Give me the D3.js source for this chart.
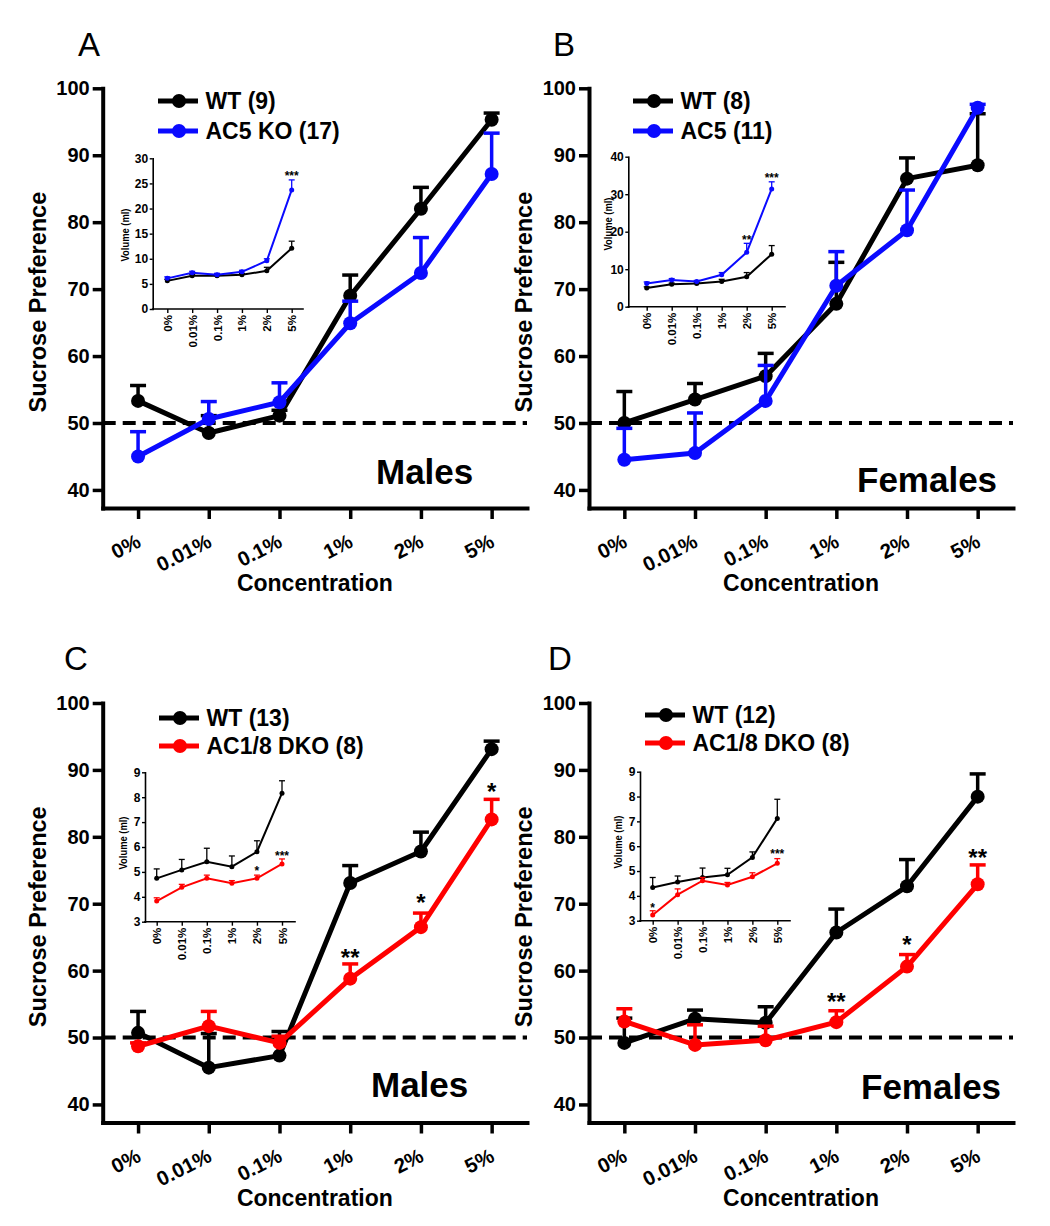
<!DOCTYPE html>
<html><head><meta charset="utf-8">
<script src="https://cdn.jsdelivr.net/npm/d3@7"></script>
<style>
body{margin:0;background:#fff;}
svg{display:block;font-family:"Liberation Sans",Arial,Helvetica,sans-serif;}
</style></head><body>
<svg id="chart" width="1050" height="1226"></svg>
<script>
// ---------- shared categories / ticks ----------
const concentrations = ["0%", "0.01%", "0.1%", "1%", "2%", "5%"];
const prefTicks = [40, 50, 60, 70, 80, 90, 100];

// ---------- Panel A (Males, AC5 KO) ----------
const aWT     = [53.3, 48.5, 51.1, 69.0, 82.0, 95.3];
const aWTErr  = [2.3, 2.6, 0.8, 3.1, 3.2, 1.0];
const aKO     = [45.0, 50.6, 53.1, 64.9, 72.4, 87.2];
const aKOErr  = [3.7, 2.6, 2.9, 3.3, 5.3, 6.1];
const aWTVol     = [5.6, 6.6, 6.6, 6.8, 7.6, 12.1];
const aWTVolErr  = [0.3, 0.3, 0.3, 0.3, 0.7, 1.4];
const aKOVol     = [6.1, 7.2, 6.8, 7.4, 9.6, 23.7];
const aKOVolErr  = [0.3, 0.3, 0.3, 0.3, 0.4, 2.0];
const aVolTicks  = [0, 5, 10, 15, 20, 25, 30];
const aStars      = [];
const aInsetStars = [["5%", 27.0, "***"]];

// ---------- Panel B (Females, AC5) ----------
const bWT     = [50.0, 53.5, 57.0, 67.8, 86.5, 88.5];
const bWTErr  = [4.7, 2.4, 3.4, 6.2, 3.1, 7.7];
const bKO     = [44.5, 45.5, 53.3, 70.5, 78.8, 97.1];
const bKOErr  = [4.7, 6.0, 5.3, 5.1, 6.0, 0.5];
const bWTVol     = [5.0, 6.0, 6.2, 6.7, 8.0, 14.0];
const bWTVolErr  = [0.3, 0.3, 0.3, 0.6, 1.1, 2.3];
const bKOVol     = [6.2, 7.1, 6.7, 8.5, 14.5, 31.4];
const bKOVolErr  = [0.4, 0.4, 0.3, 0.6, 2.4, 1.9];
const bVolTicks  = [0, 10, 20, 30, 40];
const bStars      = [];
const bInsetStars = [["2%", 18.5, "**"], ["5%", 35.1, "***"]];

// ---------- Panel C (Males, AC1/8 DKO) ----------
const cWT     = [50.7, 45.5, 47.3, 73.1, 77.8, 93.1];
const cWTErr  = [3.2, 5.1, 3.6, 2.6, 2.9, 1.2];
const cKO     = [48.7, 51.7, 49.2, 58.8, 66.5, 82.6];
const cKOErr  = [0.5, 2.2, 1.0, 2.2, 2.1, 3.0];
const cWTVol     = [4.74, 5.08, 5.41, 5.21, 5.81, 8.16];
const cWTVolErr  = [0.38, 0.42, 0.54, 0.43, 0.44, 0.50];
const cKOVol     = [3.83, 4.38, 4.74, 4.54, 4.74, 5.32];
const cKOVolErr  = [0.13, 0.12, 0.13, 0.11, 0.13, 0.20];
const cVolTicks  = [3, 4, 5, 6, 7, 8, 9];
const cStars      = [["1%", 62.7, "**"], ["2%", 70.9, "*"], ["5%", 87.5, "*"]];
const cInsetStars = [["2%", 5.14, "*"], ["5%", 5.72, "***"]];

// ---------- Panel D (Females, AC1/8 DKO) ----------
const dWT     = [49.2, 52.8, 52.2, 65.7, 72.6, 86.0];
const dWTErr  = [3.7, 1.3, 2.4, 3.5, 4.0, 3.4];
const dKO     = [52.4, 48.9, 49.6, 52.3, 60.6, 72.9];
const dKOErr  = [1.9, 3.0, 2.1, 1.7, 1.8, 2.9];
const dWTVol     = [4.34, 4.56, 4.74, 4.85, 5.55, 7.12];
const dWTVolErr  = [0.40, 0.24, 0.38, 0.26, 0.22, 0.77];
const dKOVol     = [3.23, 4.05, 4.61, 4.44, 4.77, 5.31];
const dKOVolErr  = [0.17, 0.23, 0.13, 0.10, 0.16, 0.19];
const dVolTicks  = [3, 4, 5, 6, 7, 8, 9];
const dStars      = [["1%", 56.1, "**"], ["2%", 64.6, "*"], ["5%", 77.7, "**"]];
const dInsetStars = [["0%", 3.63, "*"], ["5%", 5.78, "***"]];

// ---------- layout / style ----------
const BLUE = "#0a0aff", RED = "#ff0000", BLACK = "#000000";
const FONT = '"Liberation Sans", Arial, Helvetica, sans-serif';

const panels = [
  { letter: "A", letterX: 78, letterY: 56, sex: "Males", sexX: 376, sexY: 484,
    left: 102.7, right: 527, top: 88.3, bottom: 508, yMin: 37.3,
    legX: 158, legY: 101, legDy: 30, stars: aStars,
    series: [
      { name: "WT (9)", color: BLACK, v: aWT, e: aWTErr, vol: aWTVol, volE: aWTVolErr },
      { name: "AC5 KO (17)", color: BLUE, v: aKO, e: aKOErr, vol: aKOVol, volE: aKOVolErr } ],
    inset: { axisX: 152.7, axisRight: 303, x0: 167.3, x5: 291.7, top: 158.3, bottom: 309,
             min: 0, max: 30, ticks: aVolTicks, labX: 129, labY: 235, stars: aInsetStars } },
  { letter: "B", letterX: 553, letterY: 56, sex: "Females", sexX: 857, sexY: 492,
    left: 589, right: 1013, top: 88.3, bottom: 508, yMin: 37.3,
    legX: 633, legY: 101, legDy: 30, stars: bStars,
    series: [
      { name: "WT (8)", color: BLACK, v: bWT, e: bWTErr, vol: bWTVol, volE: bWTVolErr },
      { name: "AC5 (11)", color: BLUE, v: bKO, e: bKOErr, vol: bKOVol, volE: bKOVolErr } ],
    inset: { axisX: 628.3, axisRight: 785, x0: 646.7, x5: 771.7, top: 156.7, bottom: 306.7,
             min: 0, max: 40, ticks: bVolTicks, labX: 612, labY: 224, stars: bInsetStars } },
  { letter: "C", letterX: 64, letterY: 670, sex: "Males", sexX: 371, sexY: 1097,
    left: 102.7, right: 527, top: 703, bottom: 1122.5, yMin: 37.3,
    legX: 159, legY: 718, legDy: 28, stars: cStars,
    series: [
      { name: "WT (13)", color: BLACK, v: cWT, e: cWTErr, vol: cWTVol, volE: cWTVolErr },
      { name: "AC1/8 DKO (8)", color: RED, v: cKO, e: cKOErr, vol: cKOVol, volE: cKOVolErr } ],
    inset: { axisX: 145, axisRight: 295, x0: 156.7, x5: 282, top: 772.3, bottom: 921.7,
             min: 3, max: 9, ticks: cVolTicks, labX: 127, labY: 843, stars: cInsetStars } },
  { letter: "D", letterX: 548, letterY: 670, sex: "Females", sexX: 861, sexY: 1099,
    left: 589, right: 1013, top: 703, bottom: 1122.5, yMin: 37.3,
    legX: 645, legY: 715, legDy: 28, stars: dStars,
    series: [
      { name: "WT (12)", color: BLACK, v: dWT, e: dWTErr, vol: dWTVol, volE: dWTVolErr },
      { name: "AC1/8 DKO (8)", color: RED, v: dKO, e: dKOErr, vol: dKOVol, volE: dKOVolErr } ],
    inset: { axisX: 640, axisRight: 790, x0: 652.7, x5: 777.3, top: 771.7, bottom: 920.7,
             min: 3, max: 9, ticks: dVolTicks, labX: 622, labY: 842, stars: dInsetStars } }
];

const svg = d3.select("#chart");
svg.append("rect").attr("width", 1050).attr("height", 1226).attr("fill", "#fff");

function drawPanel(p) {
  const g = svg.append("g");
  const x = d3.scalePoint().domain(concentrations).range([p.left, p.right]).padding(0.5);
  const y = d3.scaleLinear().domain([p.yMin, 100]).range([p.bottom, p.top]);

  // panel letter
  g.append("text").attr("x", p.letterX).attr("y", p.letterY)
    .attr("font-size", 33).attr("font-family", FONT).text(p.letter);

  // y axis
  const ya = g.append("g").attr("transform", `translate(${p.left},0)`)
    .call(d3.axisLeft(y).tickValues(prefTicks).tickSize(10).tickSizeOuter(0).tickPadding(3)
      .tickFormat(d3.format("d")))
    .attr("font-family", FONT).attr("font-size", 20);
  ya.select(".domain").attr("stroke-width", 4).attr("stroke-linecap", "square");
  ya.selectAll(".tick line").attr("stroke-width", 3.5);
  ya.selectAll(".tick text").attr("font-weight", "bold").attr("fill", "#000");

  // x axis
  const xa = g.append("g").attr("transform", `translate(0,${p.bottom})`)
    .call(d3.axisBottom(x).tickSize(11).tickSizeOuter(0))
    .attr("font-family", FONT).attr("font-size", 20.5);
  xa.select(".domain").attr("stroke-width", 4).attr("stroke-linecap", "square");
  xa.selectAll(".tick line").attr("stroke-width", 3.5);
  xa.selectAll(".tick text").attr("font-weight", "bold").attr("fill", "#000")
    .attr("x", 0).attr("y", 0).attr("dy", "0.71em").attr("text-anchor", "end")
    .attr("transform", "translate(-3,25) rotate(-27)");

  // axis titles
  g.append("text").attr("transform", `translate(${p.left - 57},${(p.top + p.bottom) / 2 + 4}) rotate(-90)`)
    .attr("text-anchor", "middle").attr("font-size", 23.5).attr("font-weight", "bold")
    .attr("font-family", FONT).text("Sucrose Preference");
  g.append("text").attr("x", (p.left + p.right) / 2).attr("y", p.bottom + 83)
    .attr("text-anchor", "middle").attr("font-size", 23).attr("font-weight", "bold")
    .attr("font-family", FONT).text("Concentration");

  // dashed 50% reference
  g.append("line").attr("x1", p.left).attr("x2", p.right).attr("y1", y(50)).attr("y2", y(50))
    .attr("stroke", "#000").attr("stroke-width", 4).attr("stroke-dasharray", "13,7");

  // sex label
  g.append("text").attr("x", p.sexX).attr("y", p.sexY).attr("font-size", 35)
    .attr("font-weight", "bold").attr("font-family", FONT).text(p.sex);

  // series
  const line = d3.line().x((d, i) => x(concentrations[i])).y(d => y(d));
  p.series.forEach(s => {
    g.append("path").datum(s.v).attr("d", line).attr("fill", "none")
      .attr("stroke", s.color).attr("stroke-width", 5).attr("stroke-linejoin", "round");
    const eg = g.append("g").attr("stroke", s.color).attr("stroke-width", 3.5);
    s.v.forEach((v, i) => {
      const cx = x(concentrations[i]);
      eg.append("line").attr("x1", cx).attr("x2", cx).attr("y1", y(v)).attr("y2", y(v + s.e[i]));
      eg.append("line").attr("x1", cx - 8).attr("x2", cx + 8).attr("y1", y(v + s.e[i])).attr("y2", y(v + s.e[i]));
    });
    g.append("g").selectAll("circle").data(s.v).join("circle")
      .attr("cx", (d, i) => x(concentrations[i])).attr("cy", d => y(d)).attr("r", 7)
      .attr("fill", s.color);
  });

  // significance stars (main)
  g.append("g").selectAll("text").data(p.stars).join("text")
    .attr("x", d => x(d[0])).attr("y", d => y(d[1]) + 13.5)
    .attr("text-anchor", "middle").attr("font-size", 24).attr("font-weight", "bold")
    .attr("font-family", FONT).text(d => d[2]);

  // legend
  p.series.forEach((s, k) => {
    const ly = p.legY + k * p.legDy;
    g.append("line").attr("x1", p.legX).attr("x2", p.legX + 40).attr("y1", ly).attr("y2", ly)
      .attr("stroke", s.color).attr("stroke-width", 5);
    g.append("circle").attr("cx", p.legX + 21).attr("cy", ly).attr("r", 7).attr("fill", s.color);
    g.append("text").attr("x", p.legX + 47.5).attr("y", ly + 8.2).attr("font-size", 23)
      .attr("font-weight", "bold").attr("font-family", FONT).text(s.name);
  });

  // ---------- inset ----------
  const q = p.inset;
  const ix = d3.scalePoint().domain(concentrations).range([q.x0, q.x5]);
  const iy = d3.scaleLinear().domain([q.min, q.max]).range([q.bottom, q.top]);
  const ig = g.append("g");

  const iya = ig.append("g").attr("transform", `translate(${q.axisX},0)`)
    .call(d3.axisLeft(iy).tickValues(q.ticks).tickSize(3).tickSizeOuter(0).tickPadding(1.5)
      .tickFormat(d3.format("d")))
    .attr("font-family", FONT).attr("font-size", 12);
  iya.select(".domain").attr("stroke-width", 1.6).attr("stroke-linecap", "square");
  iya.selectAll(".tick line").attr("stroke-width", 1.4);
  iya.selectAll(".tick text").attr("font-weight", "bold").attr("fill", "#000");

  const ixa = ig.append("g").attr("transform", `translate(0,${q.bottom})`)
    .call(d3.axisBottom(ix).tickSize(4).tickSizeOuter(0))
    .attr("font-family", FONT).attr("font-size", 11.5);
  ixa.select(".domain").attr("d", `M${q.axisX},0H${q.axisRight}`)
    .attr("stroke-width", 1.6).attr("stroke-linecap", "square");
  ixa.selectAll(".tick line").attr("stroke-width", 1.4);
  ixa.selectAll(".tick text").attr("font-weight", "bold").attr("fill", "#000")
    .attr("x", 0).attr("y", 0).attr("dy", "0.35em").attr("text-anchor", "end")
    .attr("transform", "translate(0,6) rotate(-90)");

  ig.append("text").attr("transform", `translate(${q.labX},${q.labY}) rotate(-90)`)
    .attr("text-anchor", "middle").attr("font-size", 11.5).attr("font-weight", "bold")
    .attr("font-family", FONT).attr("textLength", 53).attr("lengthAdjust", "spacingAndGlyphs")
    .text("Volume (ml)");

  const iline = d3.line().x((d, i) => ix(concentrations[i])).y(d => iy(d));
  p.series.forEach(s => {
    ig.append("path").datum(s.vol).attr("d", iline).attr("fill", "none")
      .attr("stroke", s.color).attr("stroke-width", 2);
    const eg = ig.append("g").attr("stroke", s.color).attr("stroke-width", 1.3);
    s.vol.forEach((v, i) => {
      const cx = ix(concentrations[i]);
      eg.append("line").attr("x1", cx).attr("x2", cx).attr("y1", iy(v)).attr("y2", iy(v + s.volE[i]));
      eg.append("line").attr("x1", cx - 3).attr("x2", cx + 3).attr("y1", iy(v + s.volE[i])).attr("y2", iy(v + s.volE[i]));
    });
    ig.append("g").selectAll("circle").data(s.vol).join("circle")
      .attr("cx", (d, i) => ix(concentrations[i])).attr("cy", d => iy(d)).attr("r", 2.5)
      .attr("fill", s.color);
  });

  ig.append("g").selectAll("text").data(q.stars).join("text")
    .attr("x", d => ix(d[0])).attr("y", d => iy(d[1]) + 6.5)
    .attr("text-anchor", "middle").attr("font-size", 12).attr("font-weight", "bold")
    .attr("font-family", FONT).text(d => d[2]);
}

panels.forEach(drawPanel);
</script>
</body></html>
